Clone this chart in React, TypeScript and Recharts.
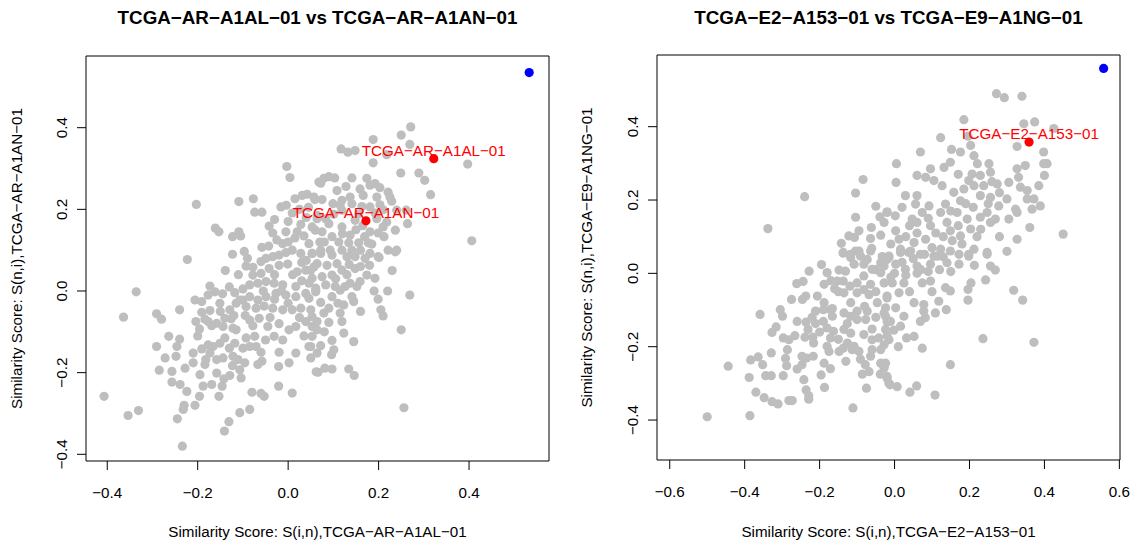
import React from 'react';
import { ScatterChart, Scatter, XAxis, YAxis, ReferenceArea } from 'recharts';

const FONT = '"Liberation Sans", Arial, Helvetica, sans-serif';

// ---------- Left panel data ----------
const leftTitle = 'TCGA−AR−A1AL−01 vs TCGA−AR−A1AN−01';
const leftXLabel = 'Similarity Score: S(i,n),TCGA−AR−A1AL−01';
const leftYLabel = 'Similarity Score: S(n,i),TCGA−AR−A1AN−01';
const leftXTicks = [-0.4, -0.2, 0.0, 0.2, 0.4];
const leftYTicks = [-0.4, -0.2, 0.0, 0.2, 0.4];
const leftRedNames = ['TCGA−AR−A1AL−01', 'TCGA−AR−A1AN−01'];
const leftRedX = [0.322, 0.172];
const leftRedY = [0.324, 0.172];
const leftBlue: [number, number][] = [[0.533, 0.535]];
const leftGrey: [number, number][] = [
  [-0.003,0.305],[0.004,0.278],[-0.203,0.212],[-0.109,0.219],[-0.077,0.226],[-0.074,0.193],[-0.058,0.193],[-0.161,0.154],[-0.153,0.145],[-0.123,0.133],[-0.109,0.145],[-0.105,0.135],[-0.042,0.159],[-0.034,0.142],[-0.123,0.090],[-0.097,0.097],[-0.223,0.077],[-0.058,0.107],[-0.043,0.110],[-0.016,0.206],[-0.004,0.210],[0.015,0.226],[0.031,0.234],[0.042,0.237],[0.009,0.191],[0.068,0.267],[0.059,0.224],[-0.005,0.145],[0.020,0.145],[0.028,0.163],[0.053,0.157],[0.064,0.177],[-0.012,0.116],[0.009,0.100],[0.028,0.092],[0.046,0.116],[0.053,0.092],[-0.034,0.084],[-0.020,0.088],
  [0.271,0.402],[0.250,0.382],[0.188,0.371],[0.269,0.359],[0.117,0.348],[0.132,0.340],[0.148,0.344],[0.218,0.334],[0.188,0.314],[0.397,0.311],[0.249,0.289],[0.289,0.289],[0.302,0.271],[0.315,0.236],[0.406,0.123],
  [0.079,0.276],[0.090,0.280],[0.103,0.277],[0.141,0.277],[0.174,0.276],[0.072,0.264],[0.128,0.256],[0.159,0.250],[0.181,0.259],[0.192,0.263],[0.203,0.253],[0.221,0.242],[0.225,0.230],[0.229,0.220],[0.196,0.230],[0.166,0.234],[0.137,0.230],[0.119,0.222],[0.115,0.210],[0.075,0.224],[0.057,0.230],[0.108,0.246],[0.099,0.214],[0.141,0.214],[0.163,0.207],[0.181,0.206],[0.203,0.211],[0.210,0.199],[0.192,0.191],[0.156,0.189],[0.119,0.198],[0.101,0.188],[0.083,0.177],[0.064,0.185],[0.148,0.173],[0.196,0.177],[0.218,0.169],[0.264,0.165],[0.261,0.198],[0.240,0.198],[0.237,0.149],[0.210,0.157],[0.199,0.142],[0.181,0.145],[0.169,0.133],[0.137,0.137],[0.119,0.157],[0.090,0.165],[0.075,0.145],[0.060,0.149],[0.097,0.133],[0.112,0.120],[0.134,0.118],[0.156,0.118],[0.177,0.118],[0.212,0.133],[0.221,0.100],[0.240,0.100],[0.141,0.100],[0.119,0.100],[0.093,0.100],[0.072,0.100],[0.053,0.092],[0.181,0.092],[0.199,0.084],
  [-0.139,0.050],[-0.336,-0.002],[-0.364,-0.064],[-0.291,-0.056],[-0.280,-0.069],[-0.240,-0.046],[-0.206,-0.022],[-0.191,-0.026],[-0.173,0.012],[-0.177,-0.010],[-0.162,-0.002],[-0.145,-0.007],[-0.191,-0.052],[-0.173,-0.048],[-0.204,-0.075],[-0.196,-0.093],[-0.177,-0.075],[-0.158,-0.079],[-0.144,-0.087],[-0.126,-0.068],[-0.122,-0.091],[-0.151,-0.030],[-0.118,-0.004],[-0.100,-0.022],[-0.115,-0.030],[-0.093,0.061],[-0.078,0.058],[-0.060,0.072],[-0.049,0.080],[-0.005,0.094],
  [-0.078,0.039],[-0.060,0.043],[-0.042,0.055],[-0.020,0.063],[-0.001,0.066],[0.020,0.047],[0.039,0.051],[0.057,0.059],[-0.085,0.015],[-0.067,0.019],[-0.049,0.023],[-0.031,0.019],[-0.012,0.015],[0.017,0.011],[0.046,0.019],[0.061,0.007],[-0.107,-0.022],[-0.085,-0.014],[-0.067,-0.022],[-0.049,-0.014],[-0.027,-0.006],[-0.005,-0.010],[0.017,-0.014],[0.039,-0.006],[0.061,-0.002],[-0.093,-0.038],[-0.071,-0.042],[-0.053,-0.037],[-0.034,-0.042],[-0.012,-0.046],[0.009,-0.046],[0.028,-0.042],[0.050,-0.046],[-0.085,-0.071],[-0.064,-0.067],[-0.045,-0.087],[-0.078,-0.085],[-0.031,-0.111],[-0.012,-0.120],[0.002,-0.095],[0.017,-0.087],[0.039,-0.075],[0.053,-0.063],[0.053,-0.087],[0.064,-0.095],[0.046,-0.136],[0.064,-0.152],[0.062,-0.198],[0.017,-0.152],[0.002,-0.176],[-0.021,-0.185],[-0.021,-0.233],[0.009,-0.250],[-0.058,-0.172],[-0.067,-0.180],[-0.053,-0.258],[-0.060,-0.251],[-0.080,-0.248],[-0.085,-0.290],[-0.107,-0.298],[-0.131,-0.320],[-0.141,-0.343],[-0.234,-0.380],[-0.407,-0.258],[-0.354,-0.305],[-0.331,-0.293],[-0.245,-0.313],[-0.230,-0.280],[-0.232,-0.290],[-0.206,-0.280],[-0.224,-0.246],[-0.239,-0.229],[-0.257,-0.223],[-0.257,-0.197],[-0.285,-0.194],[-0.291,-0.136],[-0.264,-0.111],[-0.240,-0.118],[-0.246,-0.136],[-0.272,-0.164],[-0.248,-0.160],[-0.228,-0.189],[-0.210,-0.152],[-0.210,-0.176],[-0.195,-0.205],[-0.184,-0.180],[-0.191,-0.142],[-0.182,-0.168],[-0.173,-0.152],[-0.158,-0.168],[-0.144,-0.164],[-0.158,-0.201],[-0.142,-0.215],[-0.153,-0.258],[-0.146,-0.233],[-0.169,-0.229],[-0.188,-0.233],[-0.196,-0.258],[-0.177,-0.132],[-0.151,-0.128],[-0.166,-0.136],[-0.140,-0.115],[-0.118,-0.128],[-0.100,-0.140],[-0.123,-0.183],[-0.107,-0.193],[-0.129,-0.207],[-0.104,-0.213],[-0.111,-0.168],[-0.096,-0.176],[-0.122,-0.160],[-0.093,-0.115],[-0.074,-0.111],[-0.085,-0.136],[-0.071,-0.136],[-0.115,-0.095],[-0.169,-0.085],[-0.184,-0.069],[-0.129,-0.046],[-0.140,-0.067],
  [0.201,0.082],[0.237,0.096],[0.180,0.063],[0.192,0.031],[0.269,-0.010],[0.199,-0.020],[0.205,-0.046],[0.210,-0.061],[0.250,-0.095],[0.256,-0.286],[0.145,-0.124],[0.134,-0.191],[0.146,-0.207],[0.097,-0.191],[0.081,-0.189],[0.066,-0.199],[0.097,-0.121],[0.101,-0.144],[0.096,-0.156],[0.072,-0.134],[0.050,-0.136],[0.050,-0.164],[0.053,-0.111],[0.123,-0.103],[0.090,-0.077],[0.064,-0.075],[0.119,-0.075],[0.115,-0.054],[0.079,-0.054],[0.057,-0.087],[0.141,-0.014],[0.145,-0.026],[0.123,-0.034],[0.090,-0.042],[0.072,-0.028],[0.097,-0.014],[0.115,0.002],[0.152,0.011],[0.159,0.023],[0.174,0.039],[0.137,0.019],[0.126,0.011],[0.104,0.011],[0.083,0.015],[0.061,0.002],[0.053,0.031],[0.075,0.035],[0.097,0.039],[0.119,0.051],[0.148,0.055],[0.130,0.084],[0.148,0.084],[0.108,0.067],[0.086,0.063],[0.064,0.067],[0.050,0.051],[0.097,0.088],[0.072,0.092],[0.046,-0.018],
  [0.000,0.120],[0.015,0.130],[0.035,0.135],[-0.025,0.125],[0.000,0.170],[0.040,0.180],[0.080,0.120],[0.030,0.070],[0.010,0.040],[-0.030,0.040],[-0.015,0.000],[0.030,0.025],[0.000,-0.030],[0.025,-0.065],[-0.040,-0.065],[-0.020,-0.080],[0.035,-0.110],[-0.050,-0.120],[0.080,-0.100],[0.110,-0.030],[0.130,0.040],[0.160,0.060],[0.170,0.080],[0.165,0.160],[0.230,0.050],[0.220,0.000],[0.190,0.000],[0.160,-0.050],[-0.110,0.040],[-0.090,0.080],[-0.130,0.010],[-0.150,-0.050],[-0.200,-0.110],[-0.130,-0.140],[-0.060,-0.150],[-0.020,-0.150],
  [0.105,0.030],[0.135,0.065],[0.160,0.100],[0.185,0.115],[0.120,0.140],[0.150,0.150],[0.040,0.075],[0.070,0.120],[-0.055,0.000],[-0.100,0.005],[-0.120,-0.060],[-0.095,-0.060],[-0.030,-0.020],[0.025,0.200],[0.045,0.205],[-0.030,0.175],
];

// ---------- Right panel data ----------
const rightTitle = 'TCGA−E2−A153−01 vs TCGA−E9−A1NG−01';
const rightXLabel = 'Similarity Score: S(i,n),TCGA−E2−A153−01';
const rightYLabel = 'Similarity Score: S(n,i),TCGA−E9−A1NG−01';
const rightXTicks = [-0.6, -0.4, -0.2, 0.0, 0.2, 0.4, 0.6];
const rightYTicks = [-0.4, -0.2, 0.0, 0.2, 0.4];
const rightRedNames = ['TCGA−E2−A153−01'];
const rightRedX = [0.359];
const rightRedY = [0.358];
const rightBlue: [number, number][] = [[0.558, 0.559]];
const rightGrey: [number, number][] = [
  [-0.084,0.256],[-0.104,0.219],[-0.240,0.209],[-0.338,0.122],[-0.050,0.183],[-0.104,0.153],[-0.039,0.154],[-0.020,0.168],[-0.095,0.116],[-0.062,0.125],[-0.037,0.104],[-0.064,0.095],[-0.122,0.102],[-0.107,0.098],[-0.142,0.082],[-0.061,0.068],[-0.137,0.057],[-0.104,0.061],[-0.091,0.047],[-0.117,0.043],[-0.033,0.046],[-0.015,0.043],
  [0.272,0.490],[0.293,0.479],[0.340,0.483],[0.185,0.419],[0.345,0.408],[0.374,0.413],[0.425,0.395],[0.123,0.370],[0.196,0.374],[0.327,0.346],[0.398,0.331],[0.398,0.299],[0.407,0.299],[0.069,0.331],[0.152,0.338],[0.176,0.331],[0.203,0.349],[0.212,0.321],[0.221,0.299],[0.252,0.299],[0.256,0.276],[0.327,0.285],[0.349,0.294],[0.331,0.262],[0.400,0.267],[0.385,0.239],[0.005,0.299],[0.004,0.248],[0.096,0.285],[0.060,0.267],[0.083,0.262],[0.105,0.253],[0.132,0.289],[0.149,0.303],[0.127,0.239],[0.158,0.221],[0.185,0.230],[0.198,0.253],[0.207,0.271],[0.229,0.267],[0.212,0.239],[0.238,0.239],[0.274,0.244],[0.305,0.248],[0.336,0.235],[0.354,0.226],[0.354,0.203],[0.372,0.203],[0.389,0.184],[0.367,0.175],[0.323,0.175],[0.256,0.207],[0.278,0.184],[0.300,0.203],[0.229,0.212],[0.176,0.198],[0.136,0.189],[0.092,0.184],[0.060,0.212],[0.029,0.212],[0.056,0.189],[0.074,0.166],[0.047,0.148],[0.060,0.139],[0.096,0.130],[0.123,0.166],[0.140,0.139],[0.167,0.166],[0.194,0.148],[0.149,0.116],[0.176,0.102],[0.203,0.121],[0.229,0.153],[0.247,0.166],[0.256,0.139],[0.269,0.148],[0.305,0.148],[0.327,0.166],[0.327,0.093],[0.361,0.125],[0.450,0.107],[0.247,0.057],[0.212,0.066],[0.198,0.052],[0.149,0.061],[0.154,0.089],[0.123,0.066],[0.105,0.047],[0.080,0.052],[0.038,0.057],[0.016,0.066],[0.003,0.116],[0.012,0.093],[-0.020,0.166],[-0.028,0.139],[0.002,0.157],[0.052,0.084],[0.083,0.093],
  [-0.500,-0.391],[-0.386,-0.388],[-0.444,-0.253],[-0.359,-0.112],[-0.384,-0.236],[-0.388,-0.284],[-0.370,-0.324],[-0.348,-0.339],[-0.327,-0.350],[-0.311,-0.356],[-0.282,-0.347],[-0.273,-0.347],[-0.229,-0.343],[-0.229,-0.334],[-0.236,-0.318],[-0.242,-0.290],[-0.187,-0.311],[-0.196,-0.277],[-0.171,-0.260],[-0.111,-0.367],[-0.075,-0.313],[-0.086,-0.275],[-0.068,-0.268],[-0.038,-0.275],[-0.028,-0.254],[-0.015,-0.300],[-0.020,-0.281],[-0.364,-0.228],[-0.352,-0.249],[-0.344,-0.279],[-0.329,-0.279],[-0.297,-0.279],[-0.288,-0.252],[-0.291,-0.232],[-0.286,-0.208],[-0.329,-0.217],[-0.260,-0.261],[-0.247,-0.249],[-0.235,-0.231],[-0.217,-0.226],[-0.188,-0.245],[-0.247,-0.226],[-0.327,-0.161],[-0.316,-0.146],[-0.297,-0.176],[-0.282,-0.181],[-0.266,-0.170],[-0.260,-0.131],[-0.236,-0.133],[-0.239,-0.174],[-0.218,-0.174],[-0.216,-0.190],[-0.231,-0.153],[-0.211,-0.137],[-0.190,-0.131],[-0.180,-0.149],[-0.163,-0.158],[-0.171,-0.176],[-0.180,-0.199],[-0.175,-0.213],[-0.148,-0.213],[-0.137,-0.204],[-0.113,-0.208],[-0.095,-0.213],[-0.091,-0.234],[-0.078,-0.249],[-0.064,-0.226],[-0.037,-0.245],[-0.060,-0.208],[-0.037,-0.208],[-0.028,-0.195],[-0.015,-0.181],[-0.042,-0.176],[-0.060,-0.181],[-0.082,-0.167],[-0.108,-0.199],[-0.126,-0.190],[-0.117,-0.163],[-0.135,-0.153],[-0.126,-0.137],[-0.100,-0.126],[-0.077,-0.126],[-0.073,-0.103],[-0.100,-0.103],[-0.117,-0.117],[-0.135,-0.108],[-0.166,-0.117],[-0.171,-0.099],[-0.190,-0.099],[-0.211,-0.103],[-0.206,-0.062],[-0.188,-0.080],[-0.166,-0.096],[-0.237,-0.062],[-0.246,-0.071],[-0.275,-0.071],[-0.261,-0.028],[-0.244,-0.022],[-0.228,0.006],[-0.195,0.024],[-0.188,-0.030],[-0.180,0.002],[-0.160,-0.042],[-0.148,0.009],[-0.153,-0.021],[-0.137,0.055],[-0.117,0.052],[-0.095,0.061],[-0.108,0.025],[-0.131,0.006],[-0.137,-0.021],[-0.119,-0.035],[-0.135,-0.053],[-0.117,-0.080],[-0.100,-0.053],[-0.100,-0.026],[-0.082,-0.044],[-0.068,-0.058],[-0.064,-0.030],[-0.082,-0.007],[-0.060,0.011],[-0.037,0.002],[-0.037,0.029],[-0.020,0.038],[-0.073,0.038],[-0.082,0.025],[-0.064,0.061],[-0.028,-0.026],[-0.020,-0.062],[-0.046,-0.080],[-0.028,-0.108],[-0.060,-0.152],[-0.024,-0.153],[-0.020,-0.131],[-0.299,-0.117],[-0.305,-0.099],
  [0.247,0.052],[0.256,0.020],[0.269,0.009],[0.213,0.022],[0.243,-0.018],[0.318,-0.046],[0.342,-0.073],[0.204,-0.026],[0.196,-0.044],[0.196,-0.073],[0.236,-0.178],[0.372,-0.188],[0.149,-0.249],[0.108,-0.332],[0.041,-0.324],[0.059,-0.307],[0.007,-0.309],[-0.012,-0.304],[-0.020,-0.286],[-0.028,-0.258],[-0.024,-0.245],[0.074,-0.204],[0.052,-0.172],[0.032,-0.176],[-0.002,-0.155],[-0.020,-0.170],[0.016,-0.144],[0.025,-0.117],[0.069,-0.131],[0.082,-0.121],[0.078,-0.103],[0.109,-0.108],[0.118,-0.076],[0.138,-0.099],[0.149,-0.048],[0.136,-0.039],[0.096,-0.021],[0.074,-0.026],[0.052,-0.080],[0.078,-0.085],[0.003,-0.094],[-0.024,-0.094],[-0.024,-0.117],[-0.011,-0.131],[-0.020,-0.067],[0.012,-0.053],[-0.006,-0.026],[0.025,-0.026],[-0.028,0.020],[0.003,0.025],[0.029,0.011],[0.060,0.020],[0.096,0.025],[0.114,0.047],[0.140,0.029],[0.172,0.025],[0.172,0.052],[0.198,0.047],[0.069,0.052],[0.043,0.061],[0.016,0.057],[-0.015,0.047],
  [0.000,0.000],[0.030,-0.005],[0.060,0.000],[0.090,0.005],[0.120,0.010],[0.150,0.005],[0.020,0.030],[0.050,0.040],[0.100,0.070],[0.130,0.100],[0.170,0.130],[0.210,0.180],[0.250,0.190],[0.280,0.220],[0.030,0.100],[0.060,0.110],[0.090,0.150],[0.020,0.180],[-0.010,0.080],[-0.050,0.010],[-0.010,-0.010],[0.040,-0.050],[0.100,-0.050],[-0.050,-0.050],[-0.150,-0.050],[-0.170,-0.020],[0.180,0.080],[0.220,0.100],[0.280,0.100],[0.300,0.060],[0.260,0.250],[0.170,0.270],
  [0.040,0.130],[0.110,0.110],[0.150,0.170],[0.190,0.190],[0.230,0.120],[0.070,0.010],[0.130,0.045],[-0.080,-0.090],[-0.150,-0.180],[-0.200,-0.160],[-0.220,-0.120],[-0.130,-0.240],[-0.050,-0.120],[0.010,-0.200],
];

// ---------- layout ----------
const GREY = '#BEBEBE';
const RED = '#FF0000';
const BLUE = '#0000FF';
const PT_R = 4.6;
const AXIS_FS = 15.2;
const TITLE_FS = 18.8;

const fmt = (v: number) => {
  const s = Math.abs(v).toFixed(1);
  return v < -1e-9 ? '−' + s : s;
};

const toPts = (arr: [number, number][]) => arr.map(([x, y]) => ({ x, y }));
const toNamed = (xs: number[], ys: number[], names: string[]) =>
  xs.map((x, i) => ({ x, y: ys[i], name: names[i] }));

const XTick = (props: any) => {
  const { x, y, payload } = props;
  return (
    <text x={x} y={y} dy={23} textAnchor="middle" fontSize={AXIS_FS} fontFamily={FONT} fill="#000">
      {fmt(payload.value)}
    </text>
  );
};

const YTick = (props: any) => {
  const { x, y, payload } = props;
  return (
    <text x={x} y={y} transform={`rotate(-90, ${x}, ${y})`} textAnchor="middle" fontSize={AXIS_FS} fontFamily={FONT} fill="#000">
      {fmt(payload.value)}
    </text>
  );
};

const GreyDot = (p: any) => <circle cx={p.cx} cy={p.cy} r={PT_R} fill={GREY} />;
const BlueDot = (p: any) => <circle cx={p.cx} cy={p.cy} r={PT_R} fill={BLUE} />;
const RedDot = (p: any) => (
  <g>
    <circle cx={p.cx} cy={p.cy} r={PT_R} fill={RED} />
    <text x={p.cx} y={p.cy - 3} textAnchor="middle" fontSize={AXIS_FS} fontFamily={FONT} fill={RED}>
      {p.payload.name}
    </text>
  </g>
);

interface PanelProps {
  left: number;
  width: number;
  top: number;
  plotH: number;
  yAxisW: number;
  rightM: number;
  xDomain: [number, number];
  yDomain: [number, number];
  xTicks: number[];
  yTicks: number[];
  grey: [number, number][];
  red: { x: number; y: number; name: string }[];
  blue: [number, number][];
  title: string;
  xLabel: string;
  yLabel: string;
}

const Panel = (p: PanelProps) => {
  const H = 546;
  const plotL = p.yAxisW;
  const plotW = p.width - p.yAxisW - p.rightM;
  const cx = plotL + plotW / 2;
  const cy = p.top + p.plotH / 2;
  return (
    <div style={{ position: 'absolute', left: p.left, top: 0, width: p.width, height: H }}>
      <ScatterChart
        width={p.width}
        height={H}
        margin={{ top: p.top, right: p.rightM, bottom: 0, left: 0 }}
      >
        <XAxis
          type="number"
          dataKey="x"
          domain={p.xDomain}
          ticks={p.xTicks}
          allowDataOverflow
          axisLine={false}
          tickLine={{ stroke: '#000', strokeWidth: 1 }}
          tickSize={9}
          tickMargin={5}
          height={H - p.top - p.plotH}
          tick={<XTick />}
          interval={0}
        />
        <YAxis
          type="number"
          dataKey="y"
          domain={p.yDomain}
          ticks={p.yTicks}
          allowDataOverflow
          axisLine={false}
          tickLine={{ stroke: '#000', strokeWidth: 1 }}
          tickSize={9}
          tickMargin={10}
          width={p.yAxisW}
          tick={<YTick />}
          interval={0}
        />
        <ReferenceArea
          x1={p.xDomain[0]}
          x2={p.xDomain[1]}
          y1={p.yDomain[0]}
          y2={p.yDomain[1]}
          fill="none"
          fillOpacity={0}
          stroke="#000"
          strokeWidth={1}
          ifOverflow="visible"
        />
        <Scatter data={toPts(p.grey)} shape={GreyDot} isAnimationActive={false} />
        <Scatter data={p.red} shape={RedDot} isAnimationActive={false} />
        <Scatter data={toPts(p.blue)} shape={BlueDot} isAnimationActive={false} />
      </ScatterChart>
      <svg
        width={p.width}
        height={H}
        style={{ position: 'absolute', left: 0, top: 0, pointerEvents: 'none' }}
      >
        <text x={cx} y={24} textAnchor="middle" fontSize={TITLE_FS} fontWeight="bold" fontFamily={FONT} fill="#000">
          {p.title}
        </text>
        <text x={cx} y={537} textAnchor="middle" fontSize={AXIS_FS} fontFamily={FONT} fill="#000">
          {p.xLabel}
        </text>
        <text
          x={22}
          y={cy}
          transform={`rotate(-90, 22, ${cy})`}
          textAnchor="middle"
          fontSize={AXIS_FS}
          fontFamily={FONT}
          fill="#000"
        >
          {p.yLabel}
        </text>
      </svg>
    </div>
  );
};

export default function App() {
  return (
    <div style={{ position: 'absolute', left: 0, top: 0, width: 1137, height: 546, background: '#fff' }}>
      <Panel
        left={0}
        width={570}
        top={56}
        plotH={405}
        yAxisW={86}
        rightM={21}
        xDomain={[-0.447, 0.5768]}
        yDomain={[-0.4164, 0.5756]}
        xTicks={leftXTicks}
        yTicks={leftYTicks}
        grey={leftGrey}
        red={toNamed(leftRedX, leftRedY, leftRedNames)}
        blue={leftBlue}
        title={leftTitle}
        xLabel={leftXLabel}
        yLabel={leftYLabel}
      />
      <Panel
        left={570}
        width={567}
        top={55}
        plotH={405}
        yAxisW={87}
        rightM={17}
        xDomain={[-0.634, 0.6017]}
        yDomain={[-0.509, 0.5955]}
        xTicks={rightXTicks}
        yTicks={rightYTicks}
        grey={rightGrey}
        red={toNamed(rightRedX, rightRedY, rightRedNames)}
        blue={rightBlue}
        title={rightTitle}
        xLabel={rightXLabel}
        yLabel={rightYLabel}
      />
    </div>
  );
}
